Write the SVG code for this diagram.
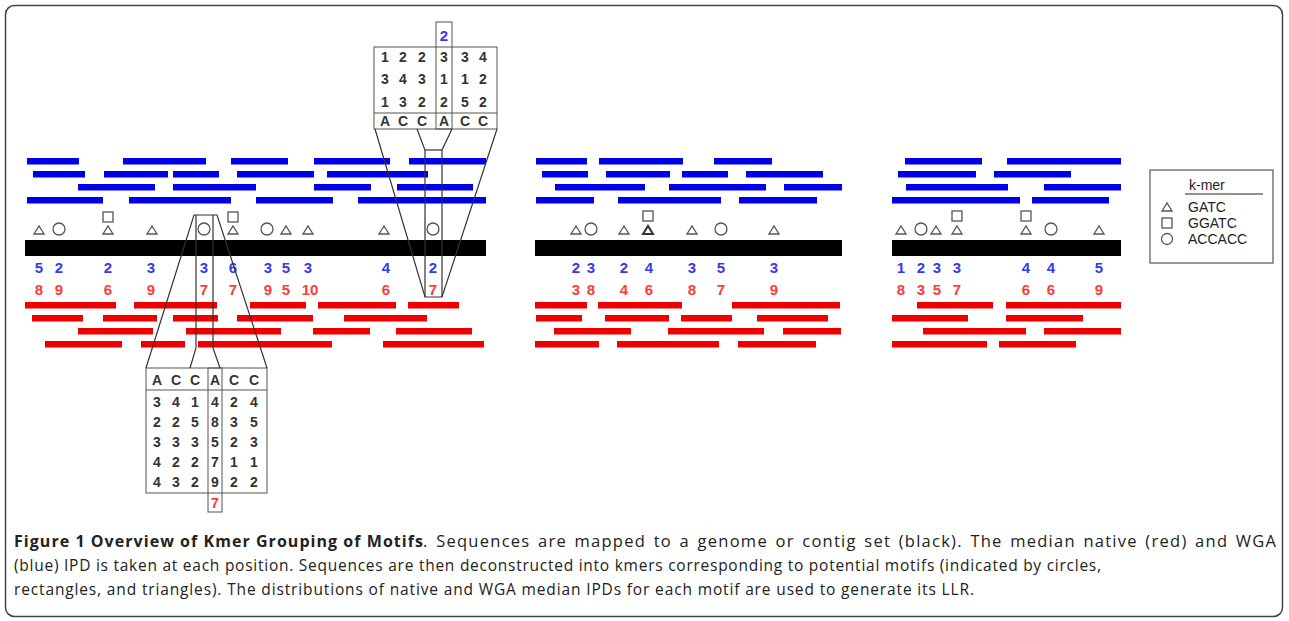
<svg xmlns="http://www.w3.org/2000/svg" width="1289" height="621" viewBox="0 0 1289 621">
<style>
.bb{fill:#0000e8}
.rb{fill:#ee0000}
.kb{fill:#000}
.sym{fill:none;stroke:#555;stroke-width:1.3}
.symb{fill:none;stroke:#333;stroke-width:2}
.nb{font-family:"Liberation Sans",Arial,sans-serif;font-size:15px;font-weight:bold;fill:#3838f0;text-anchor:middle}
.nr{font-family:"Liberation Sans",Arial,sans-serif;font-size:15px;font-weight:bold;fill:#ff3b3b;text-anchor:middle}
.tt{font-family:"Liberation Sans",Arial,sans-serif;font-size:14px;font-weight:bold;fill:#333;text-anchor:middle}
.tl{fill:none;stroke:#555;stroke-width:1}
.cn{fill:none;stroke:#333;stroke-width:1.2}
.lg{font-family:"Liberation Sans",Arial,sans-serif;font-size:14px;fill:#222}
.cap{font-family:"Open Sans","Liberation Sans",sans-serif;font-size:15.5px;fill:#222}
</style>
<defs>
<path id="tri" d="M-5,4 L5,4 L0,-4 Z"/>
</defs>
<rect x="5.5" y="5.5" width="1277" height="611" rx="9" fill="#fff" stroke="#444" stroke-width="1.5"/>

<g id="panel-left">
<g class="bb">
<rect x="27" y="158" width="52" height="6.5"/><rect x="123" y="158" width="83" height="6.5"/><rect x="231" y="158" width="57" height="6.5"/><rect x="314" y="158" width="76" height="6.5"/><rect x="409" y="158" width="77" height="6.5"/>
<rect x="33" y="171" width="52" height="6.5"/><rect x="104" y="171" width="64" height="6.5"/><rect x="173" y="171" width="46" height="6.5"/><rect x="237" y="171" width="77" height="6.5"/><rect x="327" y="171" width="101" height="6.5"/>
<rect x="78" y="184" width="77" height="6.5"/><rect x="173" y="184" width="83" height="6.5"/><rect x="314" y="184" width="57" height="6.5"/><rect x="397" y="184" width="76" height="6.5"/>
<rect x="27" y="197" width="76" height="6.5"/><rect x="129" y="197" width="102" height="6.5"/><rect x="256" y="197" width="77" height="6.5"/><rect x="358" y="197" width="128" height="6.5"/>
</g>
<rect class="kb" x="25" y="240" width="461" height="16"/>
<g class="rb">
<rect x="25" y="302" width="91" height="6.5"/><rect x="134" y="302" width="83" height="6.5"/><rect x="250" y="302" width="56" height="6.5"/><rect x="318" y="302" width="78" height="6.5"/><rect x="408" y="302" width="51" height="6.5"/>
<rect x="32" y="315" width="51" height="6.5"/><rect x="103" y="315" width="54" height="6.5"/><rect x="173" y="315" width="45" height="6.5"/><rect x="237" y="315" width="76" height="6.5"/><rect x="344" y="315" width="83" height="6.5"/>
<rect x="78" y="328" width="75" height="6.5"/><rect x="186" y="328" width="95" height="6.5"/><rect x="313" y="328" width="57" height="6.5"/><rect x="396" y="328" width="76" height="6.5"/>
<rect x="45" y="341" width="77" height="6.5"/><rect x="141" y="341" width="44" height="6.5"/><rect x="198" y="341" width="134" height="6.5"/><rect x="383" y="341" width="101" height="6.5"/>
</g>
<g class="sym">
<use href="#tri" x="39" y="230"/><circle cx="59" cy="229" r="6"/>
<rect x="103" y="212" width="10" height="10"/><use href="#tri" x="108" y="230"/>
<use href="#tri" x="152" y="230"/><circle cx="204" cy="229" r="6"/>
<rect x="228" y="212" width="10" height="10"/><use href="#tri" x="233" y="230"/>
<circle cx="267" cy="229" r="6"/><use href="#tri" x="286" y="230"/><use href="#tri" x="308" y="230"/>
<use href="#tri" x="384" y="230"/><circle cx="433" cy="229" r="6"/>
</g>
<g class="nb">
<text x="39" y="273">5</text><text x="59" y="273">2</text><text x="108" y="273">2</text><text x="151" y="273">3</text><text x="204" y="273">3</text><text x="233" y="273">6</text><text x="268" y="273">3</text><text x="286" y="273">5</text><text x="308" y="273">3</text><text x="386" y="273">4</text><text x="433" y="273">2</text>
</g>
<g class="nr">
<text x="39" y="295">8</text><text x="59" y="295">9</text><text x="108" y="295">6</text><text x="151" y="295">9</text><text x="204" y="295">7</text><text x="233" y="295">7</text><text x="268" y="295">9</text><text x="286" y="295">5</text><text x="310" y="295">10</text><text x="386" y="295">6</text><text x="433" y="295">7</text>
</g>
</g>

<g id="panel-middle">
<g class="bb">
<rect x="536" y="158" width="51" height="6.5"/><rect x="599" y="158" width="84" height="6.5"/><rect x="714" y="158" width="58" height="6.5"/>
<rect x="542" y="171" width="46" height="6.5"/><rect x="606" y="171" width="64" height="6.5"/><rect x="682" y="171" width="46" height="6.5"/><rect x="746" y="171" width="77" height="6.5"/>
<rect x="555" y="184" width="90" height="6.5"/><rect x="669" y="184" width="97" height="6.5"/><rect x="784" y="184" width="58" height="6.5"/>
<rect x="536" y="197" width="58" height="6.5"/><rect x="618" y="197" width="103" height="6.5"/><rect x="739" y="197" width="78" height="6.5"/>
</g>
<rect class="kb" x="535" y="240" width="307" height="16"/>
<g class="rb">
<rect x="535" y="302" width="52" height="6.5"/><rect x="598" y="302" width="84" height="6.5"/><rect x="732" y="302" width="108" height="6.5"/>
<rect x="536" y="315" width="46" height="6.5"/><rect x="605" y="315" width="64" height="6.5"/><rect x="681" y="315" width="51" height="6.5"/><rect x="757" y="315" width="71" height="6.5"/>
<rect x="554" y="328" width="77" height="6.5"/><rect x="668" y="328" width="96" height="6.5"/><rect x="783" y="328" width="58" height="6.5"/>
<rect x="535" y="341" width="64" height="6.5"/><rect x="617" y="341" width="102" height="6.5"/><rect x="738" y="341" width="78" height="6.5"/>
</g>
<g class="sym">
<use href="#tri" x="576" y="230"/><circle cx="591" cy="229" r="6"/><use href="#tri" x="624" y="230"/>
<rect x="643" y="211" width="10" height="10"/>
<use href="#tri" x="692" y="230"/><circle cx="721" cy="229" r="6"/><use href="#tri" x="774" y="230"/>
</g>
<use class="symb" href="#tri" x="648" y="230"/>
<g class="nb">
<text x="576" y="273">2</text><text x="591" y="273">3</text><text x="624" y="273">2</text><text x="649" y="273">4</text><text x="692" y="273">3</text><text x="721" y="273">5</text><text x="774" y="273">3</text>
</g>
<g class="nr">
<text x="576" y="295">3</text><text x="591" y="295">8</text><text x="624" y="295">4</text><text x="649" y="295">6</text><text x="692" y="295">8</text><text x="721" y="295">7</text><text x="774" y="295">9</text>
</g>
</g>

<g id="panel-right">
<g class="bb">
<rect x="905" y="158" width="77" height="6.5"/><rect x="1007" y="158" width="114" height="6.5"/>
<rect x="898" y="171" width="78" height="6.5"/><rect x="994" y="171" width="77" height="6.5"/>
<rect x="906" y="184" width="102" height="6.5"/><rect x="1044" y="184" width="77" height="6.5"/>
<rect x="892" y="197" width="128" height="6.5"/><rect x="1032" y="197" width="77" height="6.5"/>
</g>
<rect class="kb" x="892" y="240" width="229" height="16"/>
<g class="rb">
<rect x="917" y="302" width="76" height="6.5"/><rect x="1006" y="302" width="115" height="6.5"/>
<rect x="892" y="315" width="76" height="6.5"/><rect x="1006" y="315" width="77" height="6.5"/>
<rect x="923" y="328" width="103" height="6.5"/><rect x="1044" y="328" width="77" height="6.5"/>
<rect x="892" y="341" width="95" height="6.5"/><rect x="999" y="341" width="77" height="6.5"/>
</g>
<g class="sym">
<use href="#tri" x="901" y="230"/><circle cx="921" cy="229" r="6"/><use href="#tri" x="936" y="230"/>
<rect x="952" y="211" width="10" height="10"/><use href="#tri" x="957" y="230"/>
<rect x="1021" y="211" width="10" height="10"/><use href="#tri" x="1026" y="230"/>
<circle cx="1051" cy="229" r="6"/><use href="#tri" x="1099" y="230"/>
</g>
<g class="nb">
<text x="901" y="273">1</text><text x="921" y="273">2</text><text x="937" y="273">3</text><text x="957" y="273">3</text><text x="1026" y="273">4</text><text x="1051" y="273">4</text><text x="1099" y="273">5</text>
</g>
<g class="nr">
<text x="901" y="295">8</text><text x="921" y="295">3</text><text x="937" y="295">5</text><text x="957" y="295">7</text><text x="1026" y="295">6</text><text x="1051" y="295">6</text><text x="1099" y="295">9</text>
</g>
</g>

<g id="table-top">
<rect x="374" y="47" width="123" height="82" fill="#fff" class="tl"/>
<line class="tl" x1="374" y1="113" x2="497" y2="113"/>
<rect class="tl" x="436" y="22" width="16" height="107"/>
<text x="444" y="41" class="nb">2</text>
<g class="tt">
<text x="385" y="62">1</text><text x="403" y="62">2</text><text x="422" y="62">2</text><text x="444" y="62">3</text><text x="465" y="62">3</text><text x="483" y="62">4</text>
<text x="385" y="84">3</text><text x="403" y="84">4</text><text x="422" y="84">3</text><text x="444" y="84">1</text><text x="465" y="84">1</text><text x="483" y="84">2</text>
<text x="385" y="107">1</text><text x="403" y="107">3</text><text x="422" y="107">2</text><text x="444" y="107">2</text><text x="465" y="107">5</text><text x="483" y="107">2</text>
<text x="385" y="126">A</text><text x="403" y="126">C</text><text x="422" y="126">C</text><text x="444" y="126">A</text><text x="465" y="126">C</text><text x="483" y="126">C</text>
</g>
</g>

<g id="table-bottom">
<rect x="146" y="368" width="121" height="125" fill="#fff" class="tl"/>
<line class="tl" x1="146" y1="390" x2="267" y2="390"/>
<rect class="tl" x="208" y="368" width="14" height="144"/>
<g class="tt">
<text x="157" y="385">A</text><text x="176" y="385">C</text><text x="195" y="385">C</text><text x="215" y="385">A</text><text x="234" y="385">C</text><text x="254" y="385">C</text>
<text x="157" y="407">3</text><text x="176" y="407">4</text><text x="195" y="407">1</text><text x="215" y="407">4</text><text x="234" y="407">2</text><text x="254" y="407">4</text>
<text x="157" y="427">2</text><text x="176" y="427">2</text><text x="195" y="427">5</text><text x="215" y="427">8</text><text x="234" y="427">3</text><text x="254" y="427">5</text>
<text x="157" y="447">3</text><text x="176" y="447">3</text><text x="195" y="447">3</text><text x="215" y="447">5</text><text x="234" y="447">2</text><text x="254" y="447">3</text>
<text x="157" y="467">4</text><text x="176" y="467">2</text><text x="195" y="467">2</text><text x="215" y="467">7</text><text x="234" y="467">1</text><text x="254" y="467">1</text>
<text x="157" y="487">4</text><text x="176" y="487">3</text><text x="195" y="487">2</text><text x="215" y="487">9</text><text x="234" y="487">2</text><text x="254" y="487">2</text>
</g>
<text x="215" y="508" class="nr" style="font-size:14px">7</text>
</g>

<g id="connectors">
<polyline class="cn" points="375,129 425,297 442,297 497,129"/>
<polyline class="cn" points="417,129 425,150 425,297"/>
<polyline class="cn" points="452,129 442,150 442,297"/>
<line class="cn" x1="425" y1="150" x2="442" y2="150"/>
<polyline class="cn" points="146,368 194,215 217,215 267,368"/>
<polyline class="cn" points="196,215 196,348 190,368"/>
<polyline class="cn" points="213,215 213,348 220,368"/>
</g>

<g id="legend">
<rect x="1150" y="170" width="123" height="93" fill="#fff" stroke="#555" stroke-width="1.2"/>
<text class="lg" x="1189" y="190">k-mer</text>
<line x1="1185" y1="194" x2="1263" y2="194" stroke="#222" stroke-width="1"/>
<use class="sym" href="#tri" x="1167" y="207"/>
<text class="lg" x="1188" y="212">GATC</text>
<rect class="sym" x="1162" y="218" width="10" height="10"/>
<text class="lg" x="1188" y="228">GGATC</text>
<circle class="sym" cx="1167" cy="239" r="5.5"/>
<text class="lg" x="1188" y="244">ACCACC</text>
</g>

<g id="caption" class="cap">
<text x="14" y="547" font-weight="bold" font-size="16" textLength="409" lengthAdjust="spacing">Figure 1 Overview of Kmer Grouping of Motifs</text>
<text x="423" y="547" font-size="16.5" word-spacing="2" textLength="853" lengthAdjust="spacing">. Sequences are mapped to a genome or contig set (black). The median native (red) and WGA</text>
<text x="14" y="571" textLength="1087" lengthAdjust="spacing">(blue) IPD is taken at each position. Sequences are then deconstructed into kmers corresponding to potential motifs (indicated by circles,</text>
<text x="14" y="595" textLength="960" lengthAdjust="spacing">rectangles, and triangles). The distributions of native and WGA median IPDs for each motif are used to generate its LLR.</text>
</g>
</svg>
